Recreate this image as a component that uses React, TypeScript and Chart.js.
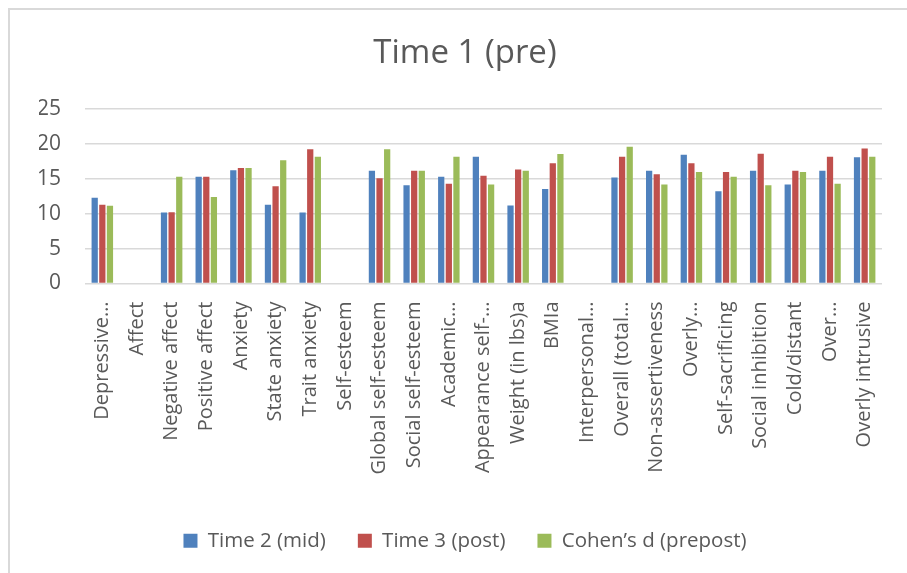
import React, { useEffect, useRef } from "react";
import { Chart, registerables } from "chart.js";

Chart.register(...registerables);

const categories = [
  "Depressive…",
  "Affect",
  "Negative affect",
  "Positive affect",
  "Anxiety",
  "State anxiety",
  "Trait anxiety",
  "Self-esteem",
  "Global self-esteem",
  "Social self-esteem",
  "Academic…",
  "Appearance self-…",
  "Weight (in lbs)a",
  "BMIa",
  "Interpersonal…",
  "Overall (total…",
  "Non-assertiveness",
  "Overly…",
  "Self-sacrificing",
  "Social inhibition",
  "Cold/distant",
  "Over…",
  "Overly intrusive",
];

const time2Mid = [12.25, null, 10.15, 15.25, 16.2, 11.25, 10.15, null, 16.1, 14.05, 15.25, 18.1, 11.15, 13.5, null, 15.15, 16.1, 18.4, 13.2, 16.1, 14.15, 16.1, 18.05];
const time3Post = [11.25, null, 10.2, 15.25, 16.5, 13.9, 19.2, null, 15.05, 16.1, 14.25, 15.4, 16.3, 17.2, null, 18.1, 15.6, 17.2, 15.95, 18.55, 16.1, 18.1, 19.3];
const cohensD = [11.1, null, 15.25, 12.35, 16.5, 17.6, 18.1, null, 19.2, 16.1, 18.1, 14.15, 16.1, 18.5, null, 19.55, 14.15, 15.95, 15.25, 14.05, 15.95, 14.25, 18.1];

const seriesNames = ["Time 2 (mid)", "Time 3 (post)", "Cohen’s d (prepost)"];
const seriesColors = ["#4F81BD", "#C0504D", "#9BBB59"];
const yTicks = [0, 5, 10, 15, 20, 25];

const FONT = "'Open Sans', sans-serif";
const TEXT = "#595959";

export default function App() {
  const ref = useRef<HTMLCanvasElement | null>(null);

  useEffect(() => {
    if (!ref.current) return;
    const values = [time2Mid, time3Post, cohensD];
    const chart = new Chart(ref.current, {
      type: "bar",
      data: {
        labels: categories,
        datasets: values.map((v, i) => ({
          label: seriesNames[i],
          data: v,
          backgroundColor: seriesColors[i],
          borderWidth: 0,
          categoryPercentage: 0.66,
          barPercentage: 0.82,
        })),
      },
      options: {
        animation: false,
        responsive: false,
        layout: { padding: { top: 0, left: 29, right: 16, bottom: 12 } },
        plugins: {
          title: {
            display: true,
            text: "Time 1 (pre)",
            color: TEXT,
            font: { family: FONT, size: 33, weight: "normal" },
            padding: { top: 24, bottom: 35 },
          },
          legend: {
            position: "bottom",
            labels: {
              color: TEXT,
              font: { family: FONT, size: 20.5 },
              boxWidth: 14,
              boxHeight: 14,
              padding: 32,
            },
          },
          tooltip: { enabled: false },
        },
        scales: {
          x: {
            grid: { display: false, drawTicks: false },
            border: { display: false },
            ticks: {
              color: TEXT,
              font: { family: FONT, size: 20 },
              minRotation: 90,
              maxRotation: 90,
              autoSkip: false,
              padding: 18,
            },
            afterFit: (scale: any) => {
              scale.height = 215;
            },
          },
          y: {
            min: 0,
            max: 25,
            afterBuildTicks: (scale: any) => {
              scale.ticks = yTicks.map((v) => ({ value: v }));
            },
            grid: { color: "#d9d9d9", lineWidth: 1.5, drawTicks: false },
            border: { display: false },
            ticks: {
              color: TEXT,
              font: { family: FONT, size: 21 },
              padding: 24,
            },
            afterFit: (scale: any) => {
              scale.width = 46;
            },
          },
        },
      },
    });
    return () => chart.destroy();
  }, []);

  return (
    <div
      style={{
        position: "fixed",
        left: 8,
        top: 8,
        width: 899,
        height: 565,
        borderLeft: "2px solid #d9d9d9",
        borderTop: "2px solid #d9d9d9",
        boxSizing: "border-box",
        background: "#fff",
      }}
    >
      <canvas ref={ref} width={897} height={563} style={{ display: "block" }} />
    </div>
  );
}
